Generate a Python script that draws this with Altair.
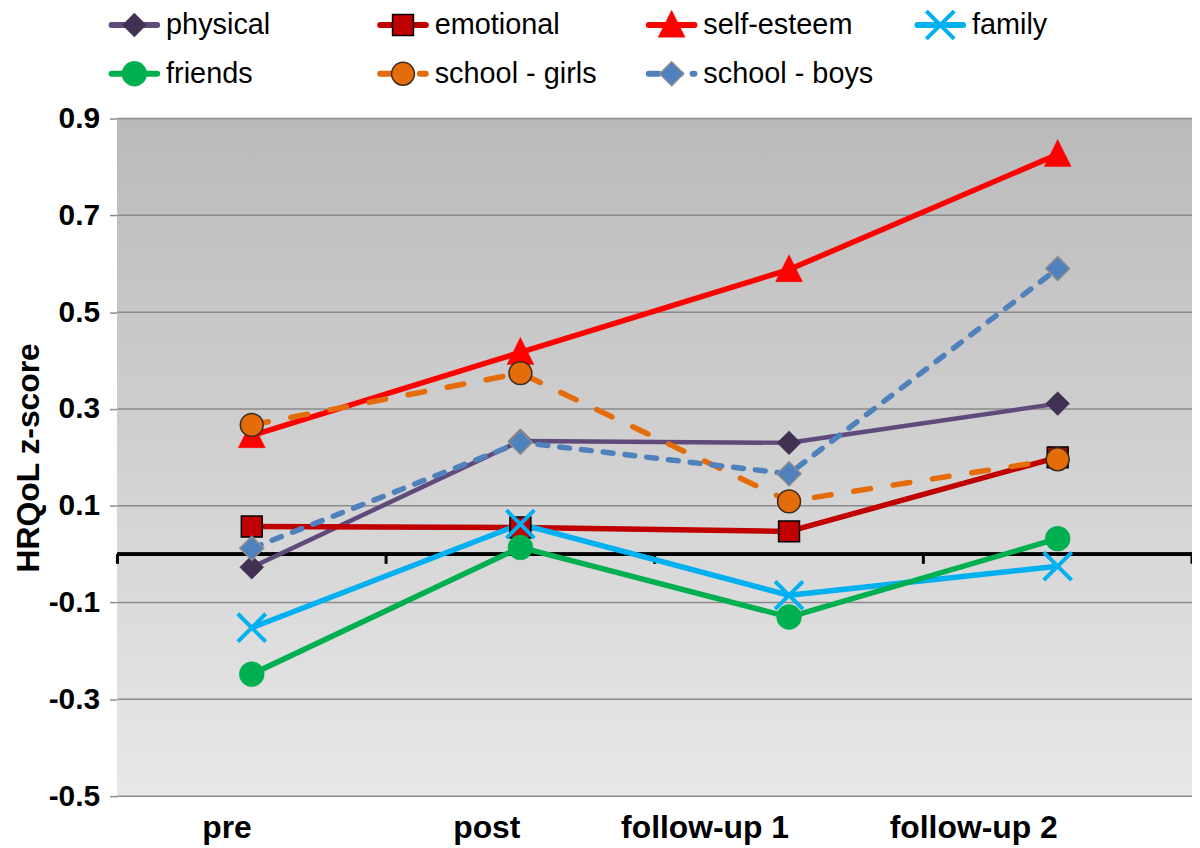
import altair as alt
import pandas as pd

# ---- data ----
categories = ["pre", "post", "follow-up 1", "follow-up 2"]
series_names = ["physical", "emotional", "self-esteem", "family",
                "friends", "school - girls", "school - boys"]
physical = [-0.027, 0.234, 0.230, 0.311]
emotional = [0.057, 0.055, 0.047, 0.200]
self_esteem = [0.245, 0.417, 0.588, 0.826]
family = [-0.152, 0.062, -0.085, -0.025]
friends = [-0.248, 0.014, -0.130, 0.032]
school_girls = [0.267, 0.374, 0.109, 0.196]
school_boys = [0.012, 0.231, 0.166, 0.590]
y_ticks = [-0.5, -0.3, -0.1, 0.1, 0.3, 0.5, 0.7, 0.9]
legend_col = [0, 1, 2, 3, 0, 1, 2]
legend_row = [0, 0, 0, 0, 1, 1, 1]

values = [physical, emotional, self_esteem, family, friends, school_girls, school_boys]

FONT = "Liberation Sans, Arial, Helvetica, sans-serif"
X_PATH = "M-1,-1L1,1M-1,1L1,-1"
TRI_PATH = "M0,-1.1L1,0.9L-1,0.9Z"

styles = {
    "physical":      dict(line="#604a7b", w=4.5, dash=None, shape="diamond", size=576, fill="#403152", stroke="#403152", sw=0.5),
    "emotional":     dict(line="#c00000", w=5.5, dash=None, shape="square", size=441, fill="#c00000", stroke="#000000", sw=1.5),
    "self-esteem":   dict(line="#ff0000", w=5.5, dash=None, shape=TRI_PATH, size=729, fill="#ff0000", stroke="#ff0000", sw=0.5),
    "family":        dict(line="#00b0f0", w=5.5, dash=None, shape=X_PATH, size=784, fill=None, stroke="#00b0f0", sw=4),
    "friends":       dict(line="#00b050", w=5.5, dash=None, shape="circle", size=625, fill="#00b050", stroke="#00b050", sw=0.5),
    "school - girls": dict(line="#e46c0a", w=5.5, dash=[17, 23], shape="circle", size=529, fill="#e46c0a", stroke="#3a2a1c", sw=1.5),
    "school - boys": dict(line="#4f81bd", w=5.5, dash=[10, 12], shape="diamond", size=576, fill="#4f81bd", stroke="#8c8c8c", sw=1.5),
}

rows = []
for name, vals in zip(series_names, values):
    for c, v in zip(categories, vals):
        rows.append({"series": name, "cat": c, "value": v})
df = pd.DataFrame(rows)

cat_df = pd.DataFrame({"cat": categories})
grid_df = pd.DataFrame({"v": y_ticks})
leg_df = pd.DataFrame({"series": series_names, "col": legend_col, "row": legend_row})
leg_df["x1"] = leg_df["col"] - 0.085
leg_df["x2"] = leg_df["col"] + 0.085
leg_df["tx"] = leg_df["col"] + 0.118

xenc = alt.X("cat:N", sort=categories, bandPosition=0.5,
             scale=alt.Scale(type="band", domain=categories, paddingInner=0, paddingOuter=0),
             axis=alt.Axis(title=None, labelFontSize=32, labelFontWeight="bold", labelFont=FONT,
                           labelColor="#000000", labelAngle=0, labelPadding=32,
                           ticks=False, domain=False, grid=False))
yscale = alt.Scale(domain=[-0.5, 0.9], nice=False, zero=False)
yenc = alt.Y("value:Q", scale=yscale,
             axis=alt.Axis(values=y_ticks, grid=False, title="HRQoL z-score",
                           labelExpr="datum.value < 0 ? '-' + format(-datum.value, '.1f') : format(datum.value, '.1f')",
                           labelFontSize=30, labelFontWeight="bold", labelFont=FONT, labelColor="#000000",
                           labelPadding=10, tickSize=8, tickColor="#8c8c8c", tickWidth=1.5,
                           domainColor="#8c8c8c", domainWidth=1.5,
                           titleFontSize=32, titleFontWeight="bold", titleFont=FONT, titleColor="#000000",
                           titlePadding=3))

base = alt.Chart(df)

bg = alt.Chart(grid_df).mark_rect(
    color=alt.LinearGradient(gradient="linear", x1=0, x2=0, y1=0, y2=1,
                             stops=[alt.GradientStop(color="#bababa", offset=0),
                                    alt.GradientStop(color="#e8e8e8", offset=1)])
).encode(y=alt.datum(0.9, scale=yscale), y2=alt.Y2Datum(-0.5))

grid = alt.Chart(grid_df).mark_rule(color="#8a8a8a", strokeWidth=1.5).encode(
    y=alt.Y("v:Q", scale=yscale))

zero = alt.Chart(grid_df).mark_rule(color="#000000", strokeWidth=3).encode(y=alt.datum(0))

ticks_start = alt.Chart(cat_df).mark_rule(color="#000000", strokeWidth=3).encode(
    x=alt.X("cat:N", sort=categories, bandPosition=0),
    y=alt.datum(0), y2=alt.Y2Datum(-0.02))
ticks_end = alt.Chart(cat_df).transform_filter(
    alt.datum.cat == categories[-1]).mark_rule(color="#000000", strokeWidth=3).encode(
    x=alt.X("cat:N", sort=categories, bandPosition=1),
    y=alt.datum(0), y2=alt.Y2Datum(-0.02))

line_layers = []
point_layers = []
for name in series_names:
    st = styles[name]
    lkw = dict(color=st["line"], strokeWidth=st["w"], strokeJoin="round")
    if st["dash"]:
        lkw["strokeDash"] = st["dash"]
        lkw["strokeCap"] = "round"
    line_layers.append(
        base.transform_filter(alt.datum.series == name).mark_line(**lkw).encode(x=xenc, y=yenc))
    if st["fill"] is None:
        pkw = dict(shape=st["shape"], size=st["size"], filled=False, stroke=st["stroke"],
                   strokeWidth=st["sw"], opacity=1)
    else:
        pkw = dict(shape=st["shape"], size=st["size"], filled=True, fill=st["fill"],
                   stroke=st["stroke"], strokeWidth=st["sw"], opacity=1)
    point_layers.append(
        base.transform_filter(alt.datum.series == name).mark_point(**pkw).encode(x=xenc, y=yenc))

main = alt.layer(bg, grid, zero, ticks_start, ticks_end, *line_layers, *point_layers)

# ---- legend drawn above the plot ----
lx = alt.Scale(domain=[0, 4], range=[17, 1097])
ly = alt.Scale(domain=[0, 1], range=[-94, -45])
leg = alt.Chart(leg_df)
leg_layers = []
for name in series_names:
    st = styles[name]
    lkw = dict(color=st["line"], strokeWidth=6, strokeCap="round")
    if st["dash"]:
        lkw["strokeDash"] = st["dash"]
    f = leg.transform_filter(alt.datum.series == name)
    leg_layers.append(f.mark_rule(**lkw).encode(
        x=alt.X("x1:Q", scale=lx, axis=None), x2="x2:Q",
        y=alt.Y("row:Q", scale=ly, axis=None)))
    if st["fill"] is None:
        pkw = dict(shape=st["shape"], size=st["size"], filled=False, stroke=st["stroke"],
                   strokeWidth=st["sw"], opacity=1)
    else:
        pkw = dict(shape=st["shape"], size=st["size"], filled=True, fill=st["fill"],
                   stroke=st["stroke"], strokeWidth=st["sw"], opacity=1)
    leg_layers.append(f.mark_point(**pkw).encode(
        x=alt.X("col:Q", scale=lx, axis=None),
        y=alt.Y("row:Q", scale=ly, axis=None)))
leg_layers.append(leg.mark_text(align="left", baseline="middle", fontSize=29, font=FONT,
                                color="#000000").encode(
    x=alt.X("tx:Q", scale=lx, axis=None),
    y=alt.Y("row:Q", scale=ly, axis=None),
    text="series:N"))
legend = alt.layer(*leg_layers)

chart = alt.layer(main, legend).resolve_scale(x="independent", y="independent").properties(
    width=1080, height=681,
    autosize=alt.AutoSizeParams(type="none"),
    padding={"left": 110, "top": 109, "right": 0, "bottom": 48},
    background="#ffffff",
).configure_view(stroke=None)

chart.save("out.html", embed_options={"renderer": "svg", "actions": False})
